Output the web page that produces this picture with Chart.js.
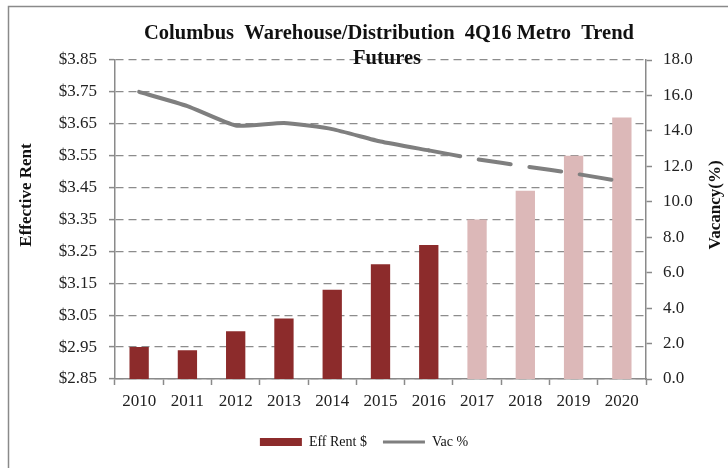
<!DOCTYPE html>
<html>
<head>
<meta charset="utf-8">
<script src="https://cdn.jsdelivr.net/npm/chart.js@4"></script>
<style>
  html, body { margin: 0; padding: 0; background: #fff; }
  #wrap { width: 728px; height: 468px; }
</style>
</head>
<body>
<div id="wrap"><canvas id="graf" width="728" height="468"></canvas></div>
<script>
const years = ['2010', '2011', '2012', '2013', '2014', '2015', '2016', '2017', '2018', '2019', '2020']
const effRent = [2.95, 2.94, 3.00, 3.04, 3.13, 3.21, 3.27, 3.35, 3.44, 3.55, 3.67]
const vacancy = [16.2, 15.4, 14.3, 14.45, 14.1, 13.4, 12.9, 12.4, 12.0, 11.6, 11.15]
const lastActual = 6 // 2016, everything after is forecast

const titleLines = ['Columbus  Warehouse/Distribution  4Q16 Metro  Trend', 'Futures']
const leftTitle = 'Effective Rent'
const rightTitle = 'Vacancy(%)'

const serif = '"Liberation Serif", "Times New Roman", serif'

let barColors = effRent.map((v, i) => i <= lastActual ? '#8c2b2b' : '#dcb8b8')

// frame, titles drawn by hand so they can sit where the original has them
const extras = {
    id: 'extras',
    beforeDraw(chart) {
        let c = chart.ctx
        c.save()
        c.fillStyle = '#fff'
        c.fillRect(0, 0, chart.width, chart.height)
        c.strokeStyle = '#8a8a8a'
        c.lineWidth = 1.5
        c.strokeRect(8.5, 6.5, chart.width + 20, chart.height + 20)
        c.restore()
    },
    afterDraw(chart) {
        let c = chart.ctx
        c.save()
        c.fillStyle = '#111'
        c.textAlign = 'center'
        c.textBaseline = 'middle'
        c.font = 'bold 20.5px ' + serif
        c.fillText(titleLines[0], 389, 34)
        c.fillText(titleLines[1], 387, 59)

        c.font = 'bold 17px ' + serif
        c.translate(27, 195)
        c.rotate(-Math.PI / 2)
        c.fillText(leftTitle, 0, 0)
        c.restore()

        c.save()
        c.fillStyle = '#111'
        c.textAlign = 'center'
        c.textBaseline = 'middle'
        c.font = 'bold 17px ' + serif
        c.translate(716, 205)
        c.rotate(-Math.PI / 2)
        c.fillText(rightTitle, 0, 0)
        c.restore()
    }
}

Chart.defaults.font.family = serif
Chart.defaults.font.size = 17
Chart.defaults.color = '#222'

const data = {
    labels: years,
    datasets: [
        {
            type: 'bar',
            label: 'Eff Rent $',
            data: effRent,
            yAxisID: 'y',
            backgroundColor: barColors,
            categoryPercentage: 1,
            barPercentage: 0.4,
            order: 1
        },
        {
            type: 'line',
            label: 'Vac %',
            data: vacancy,
            yAxisID: 'y1',
            borderColor: '#7f7f7f',
            backgroundColor: '#7f7f7f',
            borderWidth: 4,
            pointRadius: 0,
            tension: 0.15,
            borderCapStyle: 'round',
            segment: {
                borderDash: ctx => ctx.p0DataIndex >= lastActual ? [32, 19] : undefined
            },
            order: 0
        }
    ]
}

const config = {
    data: data,
    options: {
        responsive: false,
        animation: false,
        layout: { padding: { top: 60, bottom: 9, left: 0, right: 0 } },
        plugins: {
            title: { display: false },
            tooltip: { enabled: false },
            legend: {
                display: true,
                position: 'bottom',
                labels: {
                    usePointStyle: true,
                    pointStyleWidth: 42,
                    boxHeight: 8,
                    padding: 16,
                    color: '#111',
                    font: { size: 14 },
                    sort: (a, b) => a.datasetIndex - b.datasetIndex,
                    generateLabels(chart) {
                        let items = Chart.defaults.plugins.legend.labels.generateLabels(chart)
                        items.forEach(it => {
                            if (it.datasetIndex === 0) {
                                it.pointStyle = 'rect'
                                it.fillStyle = '#8c2b2b'
                                it.strokeStyle = '#8c2b2b'
                                it.lineWidth = 0
                            } else {
                                it.pointStyle = 'line'
                                it.strokeStyle = '#7f7f7f'
                                it.lineWidth = 3
                                it.lineDash = []
                            }
                        })
                        return items
                    }
                }
            }
        },
        scales: {
            x: {
                offset: true,
                grid: {
                    display: true,
                    offset: true,
                    drawOnChartArea: false,
                    drawTicks: true,
                    tickLength: 6,
                    tickColor: '#8a8a8a',
                    tickWidth: 1.5
                },
                border: { display: true, color: '#8a8a8a', width: 1.5 },
                ticks: { padding: 6, color: '#222', maxRotation: 0 },
                afterFit(scale) { scale.height = 40 }
            },
            y: {
                position: 'left',
                min: 2.85,
                max: 3.85,
                grid: {
                    color: '#8c8c8c',
                    lineWidth: 1.2,
                    drawTicks: true,
                    tickLength: 6,
                    tickColor: '#8a8a8a',
                    tickWidth: 1.5
                },
                border: { display: true, color: '#8a8a8a', width: 1.5, dash: [8, 5] },
                ticks: {
                    stepSize: 0.1,
                    padding: 12,
                    color: '#222',
                    callback: v => '$' + Number(v).toFixed(2)
                },
                afterFit(scale) { scale.width = 115 }
            },
            y1: {
                position: 'right',
                min: 0,
                max: 18,
                grid: {
                    drawOnChartArea: false,
                    drawTicks: true,
                    tickLength: 6,
                    tickColor: '#8a8a8a',
                    tickWidth: 1.5
                },
                border: { display: true, color: '#8a8a8a', width: 1.5 },
                ticks: {
                    stepSize: 2,
                    padding: 11,
                    color: '#222',
                    callback: v => Number(v).toFixed(1)
                },
                afterFit(scale) { scale.width = 82 }
            }
        }
    },
    plugins: [extras]
}

let meuGrafico = new Chart(document.getElementById('graf').getContext('2d'), config)
</script>
</body>
</html>
